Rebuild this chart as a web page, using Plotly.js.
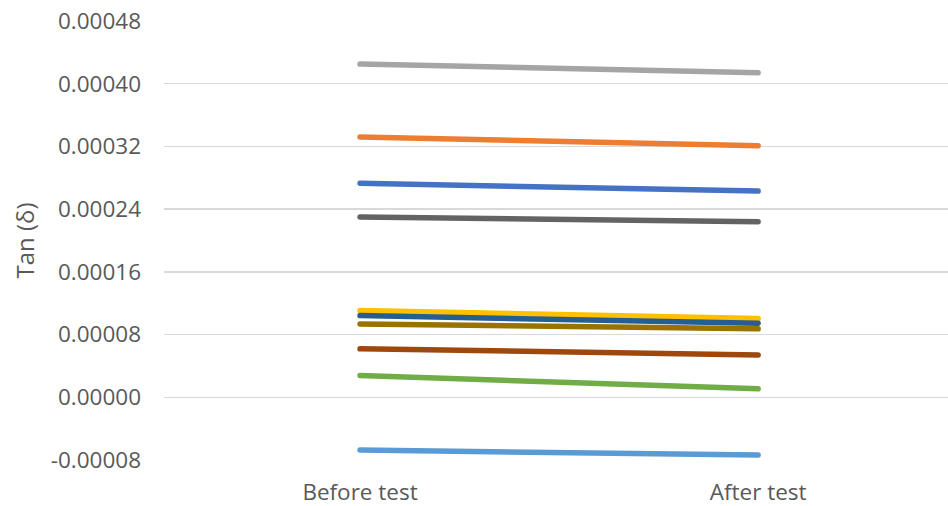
<!DOCTYPE html>
<html>
<head>
<meta charset="utf-8">
<script src="https://cdn.plot.ly/plotly-3.0.1.min.js"></script>
<style>html,body{margin:0;padding:0;background:#fff;}#chart{width:948px;height:506px;}</style>
</head>
<body>
<div id="chart"></div>
<script>
const categories = ["Before test", "After test"];
const seriesGray = [0.000425, 0.000414];
const seriesOrange = [0.000332, 0.000321];
const seriesBlue = [0.000273, 0.000263];
const seriesDarkGray = [0.000230, 0.000224];
const seriesGold = [0.0001106, 0.0001004];
const seriesDarkGold = [0.0000936, 0.0000873];
const seriesDarkBlue = [0.0001042, 0.0000945];
const seriesRust = [0.0000618, 0.0000541];
const seriesGreen = [0.0000278, 0.0000108];
const seriesLightBlue = [-0.0000673, -0.0000736];
const yTickVals = [-0.00008, 0, 0.00008, 0.00016, 0.00024, 0.00032, 0.00040, 0.00048];
const yTickText = ["-0.00008", "0.00000", "0.00008", "0.00016", "0.00024", "0.00032", "0.00040", "0.00048"];

const seriesList = [
  [seriesBlue, "#4472C4"],
  [seriesOrange, "#ED7D31"],
  [seriesGray, "#A5A5A5"],
  [seriesGold, "#FFC000"],
  [seriesLightBlue, "#5B9BD5"],
  [seriesGreen, "#70AD47"],
  [seriesRust, "#9E480E"],
  [seriesDarkGray, "#636363"],
  [seriesDarkGold, "#997300"],
  [seriesDarkBlue, "#255E91"]
];

const traces = seriesList.map(([vals, color]) => ({
  type: "scatter",
  mode: "lines",
  x: categories,
  y: vals,
  line: {color: color, width: 5.5},
  hoverinfo: "skip",
  showlegend: false
}));

const font = {family: "Open Sans, Liberation Sans, sans-serif", size: 22.5, color: "#595959"};
const titleFont = {family: "Open Sans, Liberation Sans, sans-serif", size: 24, color: "#595959"};

const layout = {
  width: 948,
  height: 506,
  margin: {l: 164, r: 0, t: 21, b: 46, pad: 0},
  paper_bgcolor: "#ffffff",
  plot_bgcolor: "#ffffff",
  font: font,
  showlegend: false,
  xaxis: {
    type: "category",
    range: [-0.4925, 1.477],
    showgrid: false,
    zeroline: false,
    showline: false,
    ticks: "",
    tickfont: font,
    ticklabelstandoff: 16
  },
  yaxis: {
    range: [-0.00008, 0.00048],
    tickmode: "array",
    tickvals: yTickVals,
    ticktext: yTickText,
    showgrid: true,
    gridcolor: "#D9D9D9",
    gridwidth: 1.5,
    zeroline: false,
    showline: false,
    ticks: "",
    tickfont: font,
    ticklabelstandoff: 22,
    title: {text: "Tan (δ)", font: titleFont, standoff: 9}
  }
};

Plotly.newPlot("chart", traces, layout, {displayModeBar: false, staticPlot: true}).then(() => {
  document.querySelectorAll(".scatterlayer path.js-line").forEach(p => {
    p.style.strokeLinecap = "round";
  });
});
</script>
</body>
</html>
